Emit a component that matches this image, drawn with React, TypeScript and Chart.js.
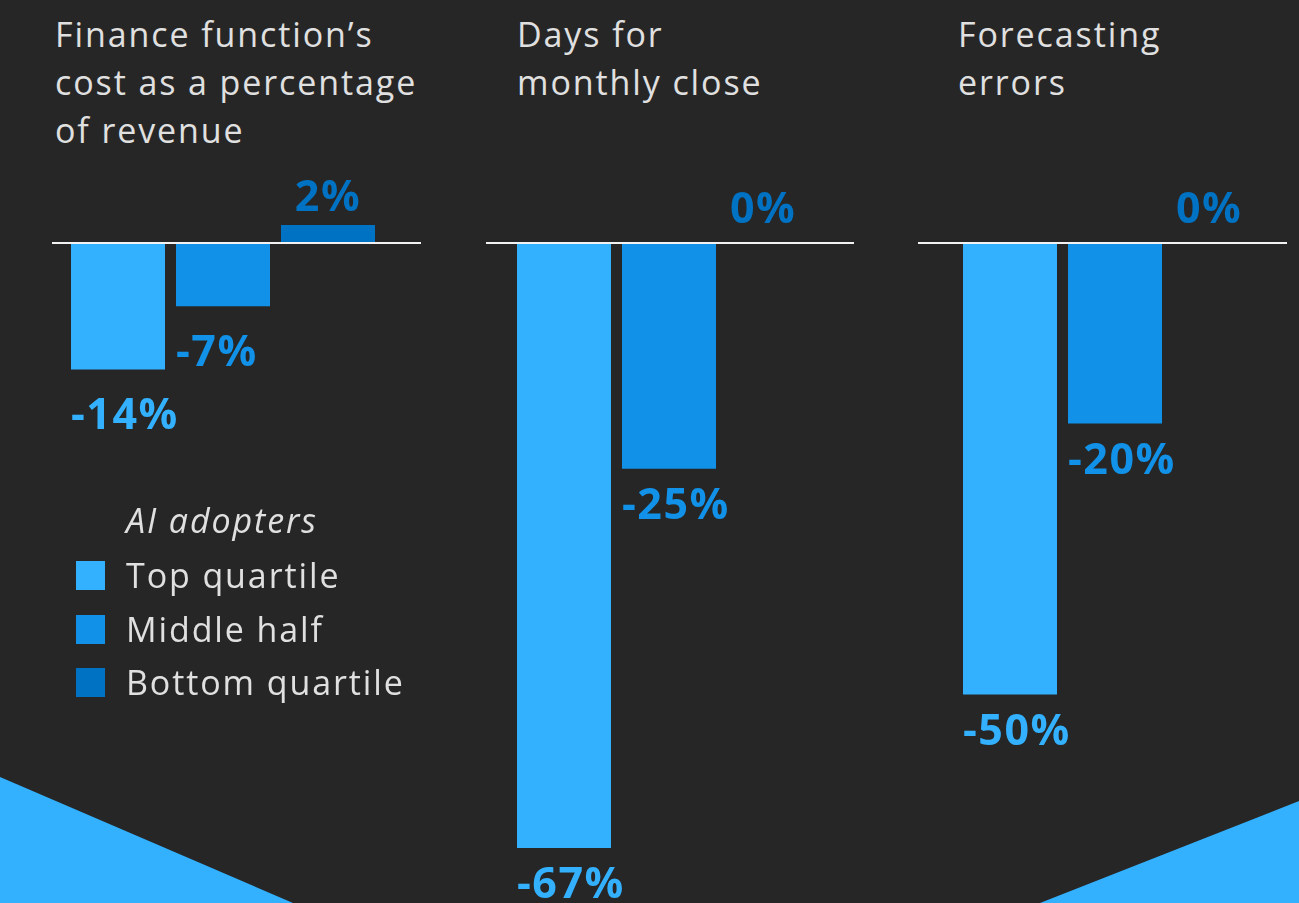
import React, { useEffect, useRef } from "react";
import { Chart, registerables } from "chart.js";
Chart.register(...registerables);

// ---- data ----
const seriesNames = ["Top quartile", "Middle half", "Bottom quartile"];
const seriesColors = ["#33b1ff", "#1192e8", "#0072c3"];
const legendTitle = "AI adopters";
const costTitle = ["Finance function’s", "cost as a percentage", "of revenue"];
const closeTitle = ["Days for", "monthly close"];
const forecastTitle = ["Forecasting", "errors"];
const costValues = [-14, -7, 2];
const closeValues = [-67, -25, 0];
const forecastValues = [-50, -20, 0];
const yMin = -70;
const yMax = 20;

// ---- layout ----
const W = 1299;
const H = 903;
const BG = "#262626";
const TEXT = "#e0e0e0";
const ZERO_Y = 243;
const PX_PER_UNIT = 9.03;

type Panel = {
  title: string[];
  values: number[];
  areaLeft: number;
  areaRight: number;
  lineLeft: number;
  lineRight: number;
  titleX: number;
  negOffset: number;
};

const panels: Panel[] = [
  { title: costTitle, values: costValues, areaLeft: 65.5, areaRight: 380.5, lineLeft: 52, lineRight: 421, titleX: 55, negOffset: 60 },
  { title: closeTitle, values: closeValues, areaLeft: 511.5, areaRight: 826.5, lineLeft: 486, lineRight: 854, titleX: 517, negOffset: 50 },
  { title: forecastTitle, values: forecastValues, areaLeft: 957.5, areaRight: 1272.5, lineLeft: 918, lineRight: 1287, titleX: 958, negOffset: 50 },
];

const LABEL_FONT = "bold 43px 'Open Sans', Roboto, sans-serif";
const TEXT_FONT = "'Open Sans', Roboto, sans-serif";
const TEXT_SPACING = "1.9px";

function PanelChart({ panel }: { panel: Panel }) {
  const ref = useRef<HTMLCanvasElement | null>(null);
  useEffect(() => {
    if (!ref.current) return;
    const top = ZERO_Y - yMax * PX_PER_UNIT;
    const bottom = ZERO_Y - yMin * PX_PER_UNIT;
    const zeroLinePlugin = {
      id: "zeroLine",
      afterDatasetsDraw(chart: any) {
        const ctx = chart.ctx;
        const y = chart.scales.y.getPixelForValue(0);
        ctx.save();
        ctx.strokeStyle = "#f2f2f2";
        ctx.lineWidth = 2;
        ctx.beginPath();
        ctx.moveTo(panel.lineLeft, y);
        ctx.lineTo(panel.lineRight, y);
        ctx.stroke();
        ctx.restore();
      },
    };
    const labelPlugin = {
      id: "barLabels",
      afterDraw(chart: any) {
        const ctx = chart.ctx;
        const meta = chart.getDatasetMeta(0);
        const data = chart.data.datasets[0].data as number[];
        ctx.save();
        ctx.font = LABEL_FONT;
        try {
          (ctx as any).letterSpacing = "1.5px";
        } catch (e) {}
        ctx.textBaseline = "alphabetic";
        meta.data.forEach((bar: any, i: number) => {
          const v = data[i];
          const { x, y, width } = bar.getProps(["x", "y", "width"], true);
          const left = x - width / 2;
          ctx.fillStyle = seriesColors[i];
          const txt = `${v}%`;
          if (v < 0) {
            ctx.textAlign = "left";
            ctx.fillText(txt, left, y + panel.negOffset);
          } else if (v > 0) {
            ctx.textAlign = "center";
            ctx.fillText(txt, x, y - 14);
          } else {
            ctx.textAlign = "left";
            ctx.fillText(txt, left + 3, y - 20);
          }
        });
        ctx.restore();
      },
    };
    const chart = new Chart(ref.current, {
      type: "bar",
      data: {
        labels: seriesNames,
        datasets: [
          {
            data: panel.values,
            backgroundColor: seriesColors,
            borderWidth: 0,
            categoryPercentage: 1,
            barPercentage: 94 / 105,
          },
        ],
      },
      options: {
        responsive: false,
        animation: false,
        devicePixelRatio: 1,
        events: [],
        layout: {
          padding: {
            left: panel.areaLeft,
            right: W - panel.areaRight,
            top: top,
            bottom: H - bottom,
          },
        },
        plugins: { legend: { display: false }, tooltip: { enabled: false } },
        scales: {
          x: { display: false, grid: { display: false } },
          y: { display: false, min: yMin, max: yMax, grid: { display: false } },
        },
      },
      plugins: [zeroLinePlugin, labelPlugin],
    } as any);
    return () => chart.destroy();
  }, [panel]);
  return (
    <canvas
      ref={ref}
      width={W}
      height={H}
      style={{ position: "absolute", left: 0, top: 0, width: W, height: H }}
    />
  );
}

const legendBaselines = [588, 642, 695];

export default function App() {
  return (
    <div
      style={{
        position: "fixed",
        left: 0,
        top: 0,
        width: W,
        height: H,
        background: BG,
        overflow: "hidden",
        fontFamily: TEXT_FONT,
        color: TEXT,
        letterSpacing: TEXT_SPACING,
      }}
    >
      {/* decorative triangles */}
      <div
        style={{
          position: "absolute",
          left: 0,
          top: 0,
          width: W,
          height: H,
          background: "#33b1ff",
          clipPath: "polygon(0px 777px, 293px 903px, 0px 903px)",
        }}
      />
      <div
        style={{
          position: "absolute",
          left: 0,
          top: 0,
          width: W,
          height: H,
          background: "#33b1ff",
          clipPath: "polygon(1299px 801px, 1299px 903px, 1040px 903px)",
        }}
      />
      {panels.map((p, i) => (
        <div
          key={"t" + i}
          style={{
            position: "absolute",
            left: p.titleX,
            top: 10,
            fontSize: 34,
            lineHeight: "48px",
            whiteSpace: "nowrap",
          }}
        >
          {p.title.map((line, j) => (
            <div key={j}>{line}</div>
          ))}
        </div>
      ))}
      {panels.map((p, i) => (
        <PanelChart key={"c" + i} panel={p} />
      ))}
      {/* legend */}
      <div
        style={{
          position: "absolute",
          left: 126,
          top: 533 - 37,
          fontSize: 34,
          lineHeight: "48px",
          fontStyle: "italic",
          whiteSpace: "nowrap",
        }}
      >
        {legendTitle}
      </div>
      {seriesNames.map((name, i) => (
        <React.Fragment key={"l" + i}>
          <div
            style={{
              position: "absolute",
              left: 76,
              top: legendBaselines[i] - 27,
              width: 29,
              height: 29,
              background: seriesColors[i],
            }}
          />
          <div
            style={{
              position: "absolute",
              left: 126,
              top: legendBaselines[i] - 37,
              fontSize: 34,
              lineHeight: "48px",
              whiteSpace: "nowrap",
            }}
          >
            {name}
          </div>
        </React.Fragment>
      ))}
    </div>
  );
}
